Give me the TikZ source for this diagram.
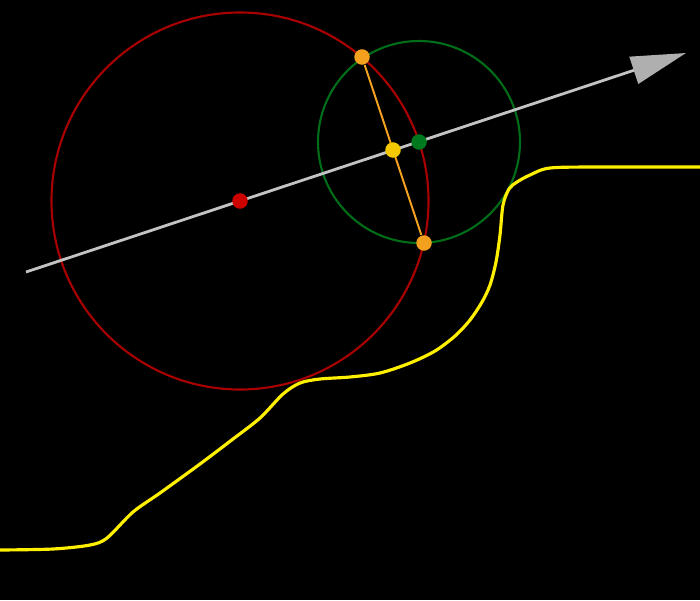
\documentclass[tikz,border=0pt]{standalone}
\usetikzlibrary{arrows.meta}
\definecolor{bgc}{RGB}{0,0,0}
\definecolor{redc}{RGB}{170,0,0}
\definecolor{greenc}{RGB}{0,110,25}
\definecolor{reddot}{RGB}{205,0,0}
\definecolor{greendot}{RGB}{0,120,30}
\definecolor{orangec}{RGB}{242,160,30}
\definecolor{yellowdot}{RGB}{245,200,0}
\definecolor{curvec}{RGB}{255,240,0}
\definecolor{linec}{RGB}{195,195,195}
\definecolor{arrowc}{RGB}{175,175,175}
\tikzset{
  dot/.style={circle,inner sep=0pt,minimum size=0.155cm,draw=none},
  bigcircle/.style={line width=0.6pt},
}
\begin{document}
\begin{tikzpicture}[x=0.01cm,y=-0.01cm]
\fill[bgc] (0,0) rectangle (700,600);
\useasboundingbox (0,0) rectangle (700,600);
% circles
\draw[bigcircle,redc] (240,201) circle[radius=188.5];
\draw[bigcircle,greenc] (419,142) circle[radius=101];
% yellow curve
\draw[curvec,line width=0.9pt,line join=round] plot[smooth,tension=0.5] coordinates {
(0,550) (53,549) (90,545) (107,538) (133,512) (160,493) (200,464) (233,439) (260,418) (283,394) (300,383) (320,379) (350,377) (380,373) (410,363) (435,351) (455,336) (470,320) (482,302) (490,285) (496,262) (500,235) (503,205) (509,189) (517,182) (530,175) (550,168) (600,167) (700,167)};
% axis arrow
\coordinate (s) at (26,272);
\coordinate (e) at (686,53);
\draw[linec,line width=0.8pt,-{Triangle[length=0.55cm,width=0.28cm,fill=arrowc,color=arrowc]}] (s) -- (e);
% dots
\node[dot,fill=orangec] (o1) at (362,57) {};
\node[dot,fill=orangec] (o2) at (424,243) {};
\draw[orangec,line width=0.55pt] (o1) -- (o2);
\node[dot,fill=yellowdot] (m) at (393,150) {};
\node[dot,fill=greendot] (g) at (419,142) {};
\node[dot,fill=reddot] (r) at (240,201) {};
\end{tikzpicture}
\end{document}
